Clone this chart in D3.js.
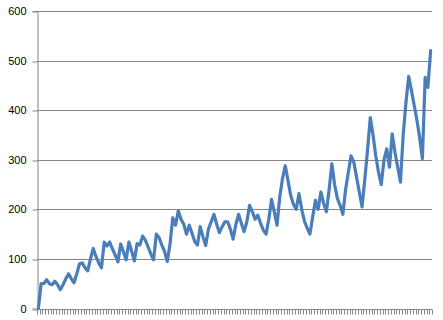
<!DOCTYPE html>
<html>
<head>
<meta charset="utf-8">
<script src="https://cdn.jsdelivr.net/npm/d3@7"></script>
<style>
  html, body { margin: 0; padding: 0; background: #fff; }
  svg { display: block; }
</style>
</head>
<body>
<div id="chart"></div>
<script>
// monthly values
const values = [
  0, 50, 50, 58, 50, 48, 55, 48, 38, 48, 60, 70,
  60, 52, 70, 90, 92, 82, 76, 100, 121, 105, 92, 82,
  134, 126, 134, 120, 108, 94, 130, 115, 98, 134, 116, 96,
  131, 128, 146, 138, 124, 110, 98, 150, 143, 128, 115, 95,
  130, 183, 168, 197, 180, 170, 150, 168, 152, 135, 128, 165,
  145, 127, 160, 175, 190, 170, 153, 165, 175, 175, 160, 140,
  170, 190, 172, 155, 175, 208, 195, 180, 188, 172, 158, 150,
  180, 220, 195, 168, 225, 262, 288, 258, 228, 210, 200, 232,
  200, 176, 162, 150, 185, 218, 200, 235, 212, 195, 240, 292,
  250, 222, 208, 190, 240, 275, 308, 295, 265, 235, 205, 260,
  320, 385, 350, 308, 275, 250, 300, 322, 285, 352, 315, 285,
  255, 350, 415, 468, 440, 410, 380, 345, 302, 466, 446, 520
];
const categories = values.map((d, i) => i + 1);
const yTicks = [0, 100, 200, 300, 400, 500, 600];

const width = 443, height = 320;
const margin = { top: 11, right: 11, bottom: 11, left: 37 };

const svg = d3.select('#chart')
  .append('svg')
  .attr('width', width)
  .attr('height', height);

const x = d3.scaleBand()
  .domain(categories)
  .range([margin.left, width - margin.right]);

const y = d3.scaleLinear()
  .domain([0, 600])
  .range([height - margin.bottom - 0.5, margin.top]);

// gridlines + y axis
const yAxis = d3.axisLeft(y)
  .tickValues(yTicks)
  .tickSize(5)
  .tickPadding(6);

svg.append('g')
  .attr('class', 'grid')
  .selectAll('line')
  .data(yTicks.slice(1))
  .enter()
  .append('line')
  .attr('x1', margin.left)
  .attr('x2', width - margin.right)
  .attr('y1', d => Math.round(y(d)) + 0.5)
  .attr('y2', d => Math.round(y(d)) + 0.5)
  .attr('stroke', '#868686')
  .attr('stroke-width', 1);

const gy = svg.append('g')
  .attr('transform', `translate(${margin.left + 0.5}, 0)`)
  .call(yAxis);

gy.select('.domain').attr('stroke', '#868686');
gy.selectAll('.tick line')
  .attr('stroke', '#868686')
  .attr('transform', d => `translate(0, ${Math.round(y(d)) + 0.5 - y(d)})`);
gy.selectAll('.tick text')
  .style('font-family', '"Liberation Sans", Arial, sans-serif')
  .style('font-size', '11px')
  .attr('fill', '#000');

// x axis: one tick at every category boundary, no labels
const xAxisY = Math.round(y(0)) + 0.5;
const bounds = categories.map(c => x(c)).concat([x.range()[1]]);

svg.append('line')
  .attr('x1', margin.left)
  .attr('x2', width - margin.right)
  .attr('y1', xAxisY)
  .attr('y2', xAxisY)
  .attr('stroke', '#868686');

svg.append('g')
  .attr('class', 'x-ticks')
  .selectAll('line')
  .data(bounds)
  .enter()
  .append('line')
  .attr('x1', d => Math.round(d) + 0.5)
  .attr('x2', d => Math.round(d) + 0.5)
  .attr('y1', xAxisY)
  .attr('y2', xAxisY + 5)
  .attr('stroke', '#868686');

// series line
const line = d3.line()
  .x((d, i) => x(categories[i]) + x.bandwidth() / 2)
  .y(d => y(d));

svg.append('path')
  .datum(values)
  .attr('fill', 'none')
  .attr('stroke', '#4A7EBB')
  .attr('stroke-width', 3.2)
  .attr('stroke-linejoin', 'round')
  .attr('stroke-linecap', 'round')
  .attr('d', line);
</script>
</body>
</html>
